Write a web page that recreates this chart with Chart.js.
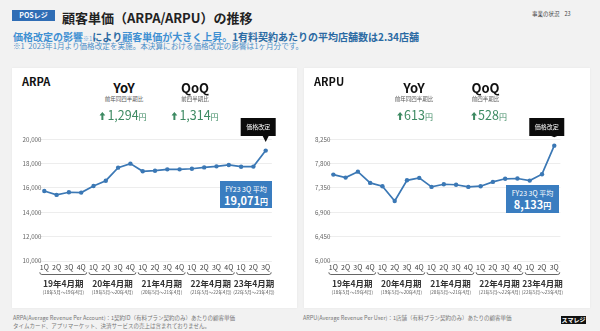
<!DOCTYPE html>
<html><head><meta charset="utf-8">
<script src="https://cdn.jsdelivr.net/npm/chart.js"></script>
<style>
html,body{margin:0;padding:0}
body{width:600px;height:331px;background:#f2f2f2;font-family:'Noto Sans CJK JP','Noto Sans',sans-serif;position:relative;overflow:hidden;color:#222}
.a{position:absolute;white-space:nowrap}
.c{position:absolute;white-space:nowrap;transform:translateX(-50%);text-align:center}
.panel{position:absolute;background:#fff;box-shadow:0 0 2px rgba(0,0,0,0.06)}
canvas{position:absolute}
.big{font-size:13px;font-weight:700;line-height:13px;color:#111}
.sm{font-size:5.5px;line-height:6px;color:#555}
.num{font-size:12.5px;line-height:13px;color:#3d8a62}
.num small{font-size:8px}
.box{position:absolute;background:#3a7dc0;color:#fff;text-align:center}
</style></head>
<body>
<div class="a" style="left:12px;top:10px;width:43px;height:11px;background:#2f6db5;color:#fff;font-size:7px;font-weight:700;line-height:11px;text-align:center">POSレジ</div>
<div class="a" style="left:62px;top:11px;font-size:13px;font-weight:700;line-height:13px;color:#222">顧客単価（ARPA/ARPU）の推移</div>
<div class="a" style="left:13px;top:30.5px;font-size:10px;font-weight:700;line-height:12px;color:#2b6aa3"><span style="color:#3f90d2">価格改定の影響</span><span style="font-size:6px;color:#6aa7da;font-weight:400">※1</span>により<span style="color:#3f90d2">顧客単価が大きく上昇。</span>1有料契約あたりの平均店舗数は2.34店舗</div>
<div class="a" style="left:13px;top:42px;font-size:7.6px;line-height:8px;color:#4d8fc8">※1&nbsp;&nbsp;2023年1月より価格改定を実施。本決算における価格改定の影響は1ヶ月分です。</div>
<div class="a" style="left:532px;top:11px;font-size:5.5px;line-height:6px;color:#444">事業の状況&nbsp;&nbsp;&nbsp;&nbsp;23</div>

<div class="panel" style="left:12px;top:68px;width:285px;height:240px"></div>
<div class="panel" style="left:304px;top:68px;width:286px;height:240px"></div>

<canvas id="arpa" width="285" height="195" style="left:12px;top:110px"></canvas>
<canvas id="arpu" width="288" height="195" style="left:302px;top:110px"></canvas>

<div class="a" style="left:22px;top:75px;font-size:11px;font-weight:700;line-height:12px;color:#111">ARPA</div>
<div class="c big" style="left:124px;top:81px">YoY</div>
<div class="c sm" style="left:124px;top:96px">前年同四半期比</div>
<div class="c num" style="left:123px;top:108px"><svg width="6" height="8" viewBox="0 0 6 8" style="margin-right:2px"><path d="M3 0 L6 3.5 L4 3.5 L4 8 L2 8 L2 3.5 L0 3.5 Z" fill="#3d8a62"/></svg>1,294<small>円</small></div>
<div class="c big" style="left:195px;top:81px">QoQ</div>
<div class="c sm" style="left:195px;top:96px">前四半期比</div>
<div class="c num" style="left:195px;top:108px"><svg width="6" height="8" viewBox="0 0 6 8" style="margin-right:2px"><path d="M3 0 L6 3.5 L4 3.5 L4 8 L2 8 L2 3.5 L0 3.5 Z" fill="#3d8a62"/></svg>1,314<small>円</small></div>

<div class="a" style="left:314px;top:75px;font-size:11px;font-weight:700;line-height:12px;color:#111">ARPU</div>
<div class="c big" style="left:414px;top:81px">YoY</div>
<div class="c sm" style="left:414px;top:96px">前年同四半期比</div>
<div class="c num" style="left:415px;top:108px"><svg width="6" height="8" viewBox="0 0 6 8" style="margin-right:1px"><path d="M3 0 L6 3.5 L4 3.5 L4 8 L2 8 L2 3.5 L0 3.5 Z" fill="#3d8a62"/></svg>613<small>円</small></div>
<div class="c big" style="left:485.5px;top:81px">QoQ</div>
<div class="c sm" style="left:485.5px;top:96px">前四半期比</div>
<div class="c num" style="left:489px;top:108px"><svg width="6" height="8" viewBox="0 0 6 8" style="margin-right:1px"><path d="M3 0 L6 3.5 L4 3.5 L4 8 L2 8 L2 3.5 L0 3.5 Z" fill="#3d8a62"/></svg>528<small>円</small></div>

<div class="box" style="left:220px;top:181px;width:52px;height:27px">
 <div style="font-size:7px;line-height:8px;margin-top:3.5px">FY23 3Q 平均</div>
 <div style="font-size:11px;font-weight:700;line-height:12px;margin-top:1px">19,071<span style="font-size:8px">円</span></div>
</div>
<div class="box" style="left:506px;top:184.5px;width:53px;height:28px">
 <div style="font-size:7px;line-height:8px;margin-top:4px">FY23 3Q 平均</div>
 <div style="font-size:11px;font-weight:700;line-height:12px;margin-top:1px">8,133<span style="font-size:8px">円</span></div>
</div>

<div class="a" style="left:13px;top:314px;font-size:5.5px;line-height:8px;color:#777">ARPA(Average Revenue Per Account)：1契約ID（有料プラン契約のみ）あたりの顧客単価<br>タイムカード、アプリマーケット、決済サービスの売上は含まれておりません。</div>
<div class="a" style="left:303px;top:314px;font-size:5.5px;line-height:8px;color:#777">ARPU(Average Revenue Per User)：1店舗（有料プラン契約のみ）あたりの顧客単価</div>
<div class="a" style="left:561px;top:315.5px;width:25px;height:8.5px;background:#111;color:#fff;font-size:6px;font-weight:700;line-height:8.5px;text-align:center">スマレジ</div>

<script>
const quarterLabels = ['1Q','2Q','3Q','4Q','1Q','2Q','3Q','4Q','1Q','2Q','3Q','4Q','1Q','2Q','3Q','4Q','1Q','2Q','3Q'];
const fiscalYears = ['19年4月期','20年4月期','21年4月期','22年4月期','23年4月期'];
const fiscalRanges = ['(18年5月～19年4月)','(19年5月～20年4月)','(20年5月～21年4月)','(21年5月～22年4月)','(22年5月～23年4月)'];
const groupSizes = [4,4,4,4,3];
const arpaValues = [15750,15430,15650,15620,16160,16600,17670,18000,17370,17420,17530,17530,17580,17690,17777,17890,17750,17757,19071];
const arpuValues = [7597,7542,7652,7444,7383,7110,7492,7536,7370,7419,7410,7370,7383,7462,7520,7525,7486,7605,8133];
const arpaTicks = [10000,12000,14000,16000,18000,20000];
const arpuTicks = [6000,6450,6900,7350,7800,8250];
const calloutText = '価格改定';

Chart.defaults.font.family = "'Noto Sans CJK JP','Noto Sans',sans-serif";
const BLUE = '#3b78b5';

const annot = {
  id:'annot',
  afterDraw(chart){
    const ctx = chart.ctx, xs = chart.scales.x;
    ctx.save();
    let idx = 0;
    groupSizes.forEach((n,g)=>{
      const x1 = xs.getPixelForValue(idx) - 4.5;
      const x2 = xs.getPixelForValue(idx+n-1) + 5.5;
      const y = 164.5;
      ctx.strokeStyle = '#555'; ctx.lineWidth = 0.9;
      ctx.beginPath();
      ctx.moveTo(x1, y-2.2); ctx.quadraticCurveTo(x1, y, x1+2, y);
      ctx.lineTo(x2-2, y); ctx.quadraticCurveTo(x2, y, x2, y-2.2);
      ctx.stroke();
      const mid = (xs.getPixelForValue(idx) + xs.getPixelForValue(idx+n-1))/2 + 0.5;
      ctx.fillStyle = '#333'; ctx.textAlign='center'; ctx.textBaseline='middle';
      ctx.font = "700 8.5px 'Noto Sans CJK JP',sans-serif";
      ctx.fillText(fiscalYears[g], mid, 174);
      ctx.fillStyle = '#555';
      ctx.font = "4.6px 'Noto Sans CJK JP',sans-serif";
      ctx.fillText(fiscalRanges[g], mid, 182);
      idx += n;
    });
    const meta = chart.getDatasetMeta(0);
    const pt = meta.data[meta.data.length-1];
    const px = pt.x, py = pt.y;
    const bl = px-25, br = px+10, bt = 8, bb = 26;
    ctx.fillStyle = '#0b0b0b';
    ctx.fillRect(bl, bt, br-bl, bb-bt);
    ctx.beginPath();
    ctx.moveTo(px-3, bb); ctx.lineTo(px+3, bb); ctx.lineTo(px, py-8.5); ctx.closePath(); ctx.fill();
    ctx.fillStyle = '#fff'; ctx.font = "6px 'Noto Sans CJK JP',sans-serif";
    ctx.textAlign='center'; ctx.textBaseline='middle';
    ctx.fillText(calloutText, (bl+br)/2, (bt+bb)/2);
    ctx.restore();
  }
};

function build(id, values, ticks, cfg){
  return new Chart(document.getElementById(id), {
    type:'line',
    data:{labels:quarterLabels, datasets:[{data:values, borderColor:BLUE, backgroundColor:BLUE, borderWidth:1.7, pointRadius:2.2, pointHoverRadius:2.2, pointBorderWidth:0, tension:0}]},
    options:{
      responsive:false, animation:false, devicePixelRatio:1, events:[],
      layout:{padding:{top:cfg.top, right:cfg.right, left:0, bottom:0}},
      plugins:{legend:{display:false}, tooltip:{enabled:false}},
      scales:{
        x:{type:'category', offset:true, grid:{display:false, drawTicks:false}, border:{display:false},
           ticks:{autoSkip:false, maxRotation:0, minRotation:0, padding:2, color:'#444', font:{size:7}},
           afterFit:s=>{s.height=cfg.xh;}},
        y:{min:ticks[0], max:ticks[ticks.length-1], grid:{color:'#e9e9e9', drawTicks:false, lineWidth:0.8}, border:{display:false},
           ticks:{mirror:true, crossAlign:'near', padding:cfg.ypad, color:'#666', font:{size:6.2}, callback:v=>Number(v).toLocaleString('en-US')},
           afterBuildTicks:s=>{s.ticks=ticks.map(v=>({value:v}));},
           afterFit:s=>{s.width=cfg.yw;}}
      }
    },
    plugins:[annot]
  });
}
build('arpa', arpaValues, arpaTicks, {top:29.3, right:25.15, xh:44, yw:26.15, ypad:-15.6});
build('arpu', arpuValues, arpuTicks, {top:29.3, right:29.6, xh:44, yw:25.2, ypad:-12.3});
</script>
</body></html>
